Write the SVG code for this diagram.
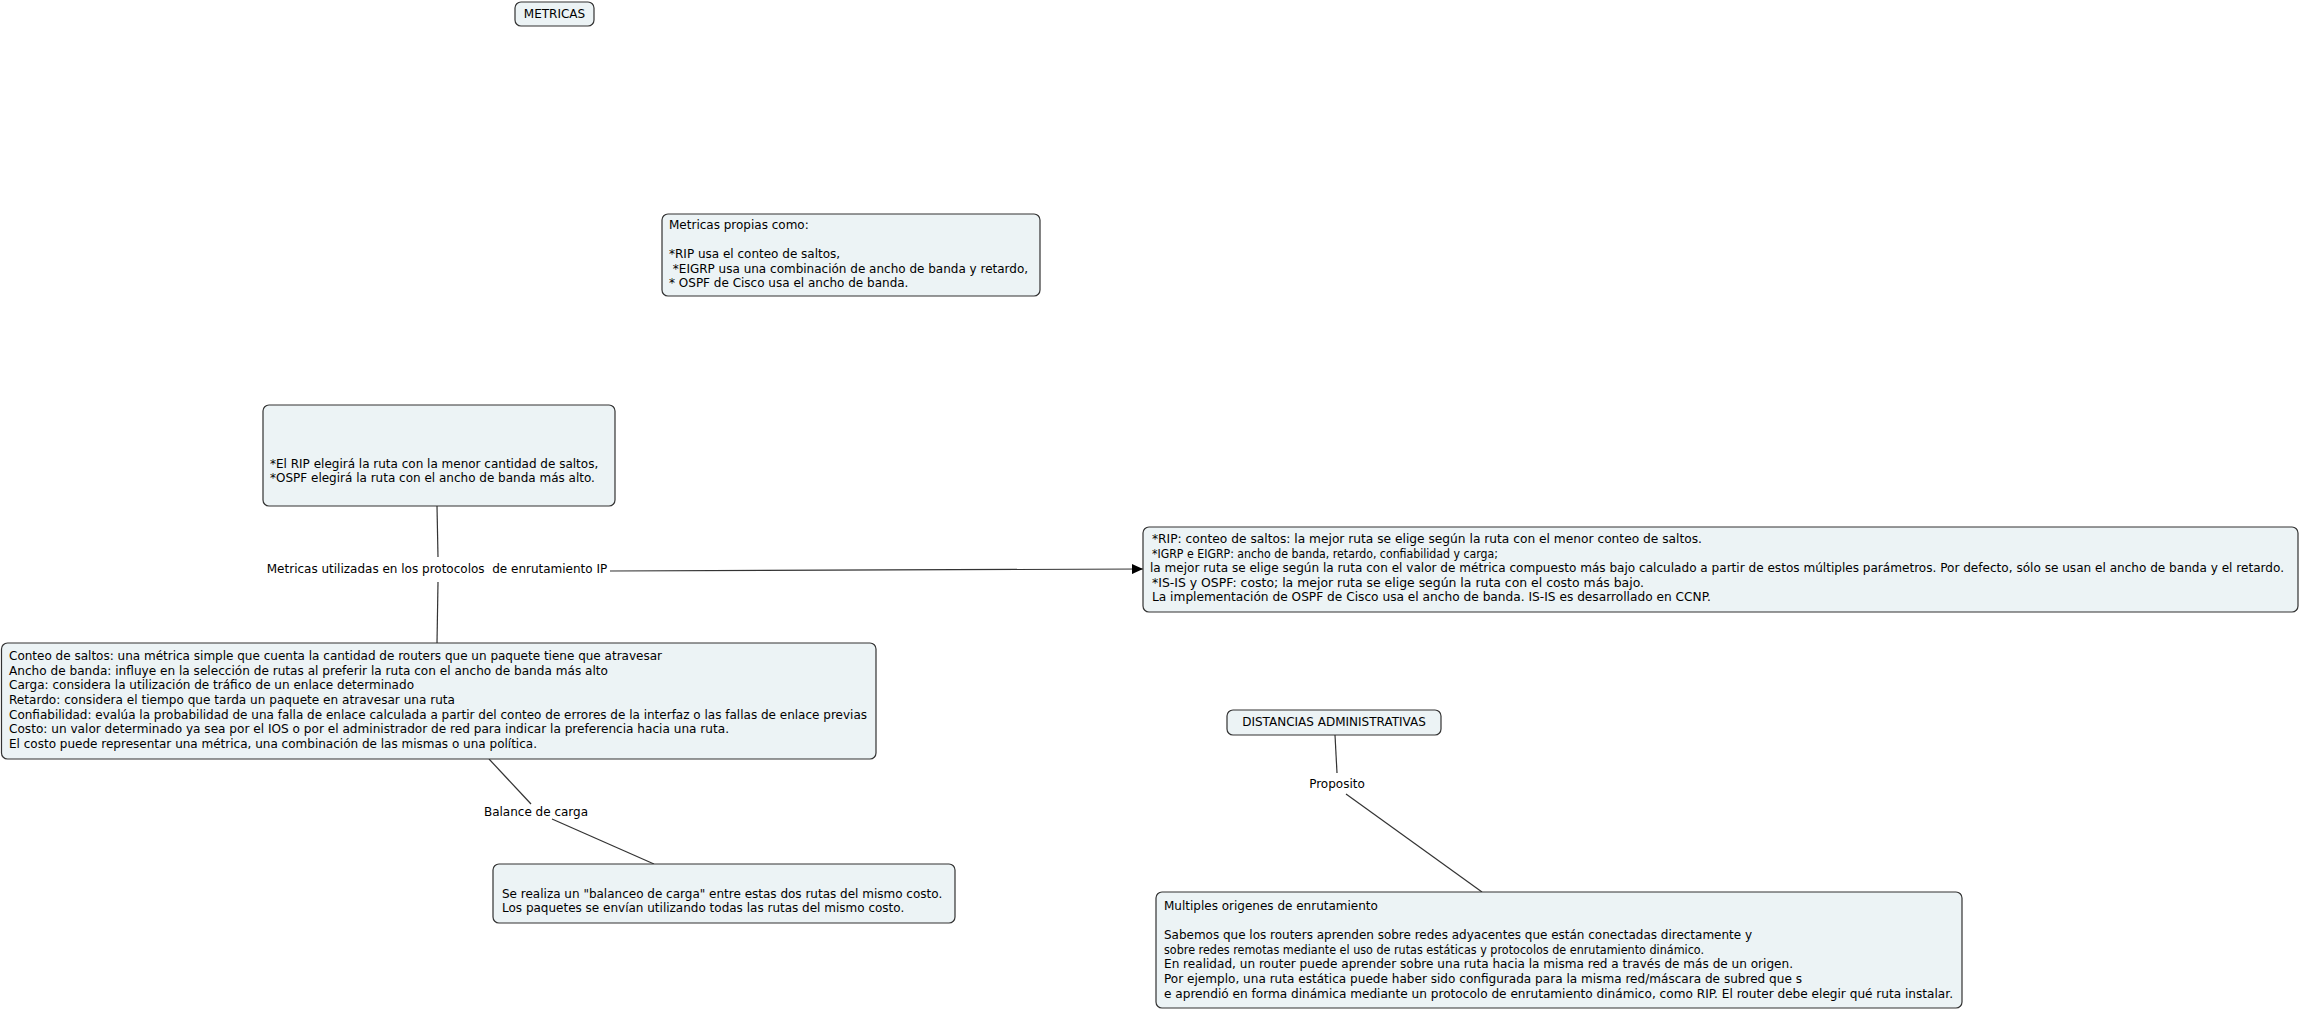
<svg xmlns="http://www.w3.org/2000/svg" width="2301" height="1010" viewBox="0 0 2301 1010">
<style>
.box{fill:#ecf3f5;stroke:#333;stroke-width:1.2}
text{font-family:"DejaVu Sans","Verdana",sans-serif;font-size:12px;fill:#000;white-space:pre}
.c{text-anchor:middle}
.ln{stroke:#333;stroke-width:1.2;fill:none}
</style>
<defs>
<marker id="ah" markerWidth="12" markerHeight="10" refX="11" refY="5" orient="auto" markerUnits="userSpaceOnUse">
<path d="M0,0 L11,5 L0,10 Z" fill="#000"/>
</marker>
</defs>
<rect width="2301" height="1010" fill="#fff"/>
<g id="connectors">
<line class="ln" x1="437" y1="506" x2="438" y2="557"/>
<line class="ln" x1="438" y1="582" x2="437" y2="643"/>
<line class="ln" x1="610" y1="571" x2="1143" y2="569" marker-end="url(#ah)"/>
<line class="ln" x1="489" y1="759" x2="531" y2="804"/>
<line class="ln" x1="552" y1="819" x2="654" y2="864"/>
<line class="ln" x1="1335" y1="735" x2="1337" y2="773"/>
<line class="ln" x1="1346" y1="794" x2="1482" y2="892"/>
</g>
<g id="n-metricas">
<rect class="box" x="515" y="2" width="79" height="24" rx="6"/>
<text class="c" x="554.5" y="18">METRICAS</text>
</g>
<g id="n-propias">
<rect class="box" x="662" y="214" width="378" height="82" rx="6"/>
<text x="669" y="229">Metricas propias como:</text>
<text x="669" y="258">*RIP usa el conteo de saltos,</text>
<text x="669" y="272.5"> *EIGRP usa una combinación de ancho de banda y retardo,</text>
<text x="669" y="287">* OSPF de Cisco usa el ancho de banda.</text>
</g>
<g id="n-elrip">
<rect class="box" x="263" y="405" width="352" height="101" rx="6"/>
<text x="270" y="468">*El RIP elegirá la ruta con la menor cantidad de saltos,</text>
<text x="270" y="482">*OSPF elegirá la ruta con el ancho de banda más alto.</text>
</g>
<g id="n-label-metricas">
<text class="c" x="437" y="573">Metricas utilizadas en los protocolos  de enrutamiento IP</text>
</g>
<g id="n-rip-right">
<rect class="box" x="1143" y="527" width="1155" height="85" rx="6"/>
<text x="1152" y="543" textLength="550" lengthAdjust="spacingAndGlyphs">*RIP: conteo de saltos: la mejor ruta se elige según la ruta con el menor conteo de saltos.</text>
<text x="1152" y="557.6" textLength="346" lengthAdjust="spacingAndGlyphs">*IGRP e EIGRP: ancho de banda, retardo, confiabilidad y carga;</text>
<text x="1150" y="572.2" textLength="1134" lengthAdjust="spacingAndGlyphs">la mejor ruta se elige según la ruta con el valor de métrica compuesto más bajo calculado a partir de estos múltiples parámetros. Por defecto, sólo se usan el ancho de banda y el retardo.</text>
<text x="1152" y="586.8" textLength="492" lengthAdjust="spacingAndGlyphs">*IS-IS y OSPF: costo; la mejor ruta se elige según la ruta con el costo más bajo.</text>
<text x="1152" y="601.4" textLength="559" lengthAdjust="spacingAndGlyphs">La implementación de OSPF de Cisco usa el ancho de banda. IS-IS es desarrollado en CCNP.</text>
</g>
<g id="n-conteo">
<rect class="box" x="1.5" y="643" width="874.5" height="116" rx="6"/>
<text x="9" y="660" textLength="653" lengthAdjust="spacingAndGlyphs">Conteo de saltos: una métrica simple que cuenta la cantidad de routers que un paquete tiene que atravesar</text>
<text x="9" y="675" textLength="599" lengthAdjust="spacingAndGlyphs">Ancho de banda: influye en la selección de rutas al preferir la ruta con el ancho de banda más alto</text>
<text x="9" y="689" textLength="405" lengthAdjust="spacingAndGlyphs">Carga: considera la utilización de tráfico de un enlace determinado</text>
<text x="9" y="704" textLength="446" lengthAdjust="spacingAndGlyphs">Retardo: considera el tiempo que tarda un paquete en atravesar una ruta</text>
<text x="9" y="719" textLength="858" lengthAdjust="spacingAndGlyphs">Confiabilidad: evalúa la probabilidad de una falla de enlace calculada a partir del conteo de errores de la interfaz o las fallas de enlace previas</text>
<text x="9" y="733" textLength="720" lengthAdjust="spacingAndGlyphs">Costo: un valor determinado ya sea por el IOS o por el administrador de red para indicar la preferencia hacia una ruta.</text>
<text x="9" y="748" textLength="528" lengthAdjust="spacingAndGlyphs">El costo puede representar una métrica, una combinación de las mismas o una política.</text>
</g>
<g id="n-label-balance">
<text class="c" x="536" y="816">Balance de carga</text>
</g>
<g id="n-balanceo">
<rect class="box" x="493" y="864" width="462" height="59" rx="6"/>
<text x="502" y="898">Se realiza un "balanceo de carga" entre estas dos rutas del mismo costo.</text>
<text x="502" y="912">Los paquetes se envían utilizando todas las rutas del mismo costo.</text>
</g>
<g id="n-distancias">
<rect class="box" x="1227" y="710" width="214" height="25" rx="6"/>
<text class="c" x="1334" y="726">DISTANCIAS ADMINISTRATIVAS</text>
</g>
<g id="n-label-proposito">
<text class="c" x="1337" y="788">Proposito</text>
</g>
<g id="n-multiples">
<rect class="box" x="1156" y="892" width="806" height="116" rx="6"/>
<text x="1164" y="909.5">Multiples origenes de enrutamiento</text>
<text x="1164" y="939" textLength="588" lengthAdjust="spacingAndGlyphs">Sabemos que los routers aprenden sobre redes adyacentes que están conectadas directamente y</text>
<text x="1164" y="953.5" textLength="540" lengthAdjust="spacingAndGlyphs">sobre redes remotas mediante el uso de rutas estáticas y protocolos de enrutamiento dinámico.</text>
<text x="1164" y="968" textLength="629" lengthAdjust="spacingAndGlyphs">En realidad, un router puede aprender sobre una ruta hacia la misma red a través de más de un origen.</text>
<text x="1164" y="983" textLength="638" lengthAdjust="spacingAndGlyphs">Por ejemplo, una ruta estática puede haber sido configurada para la misma red/máscara de subred que s</text>
<text x="1164" y="997.5" textLength="789" lengthAdjust="spacingAndGlyphs">e aprendió en forma dinámica mediante un protocolo de enrutamiento dinámico, como RIP. El router debe elegir qué ruta instalar.</text>
</g>
</svg>
